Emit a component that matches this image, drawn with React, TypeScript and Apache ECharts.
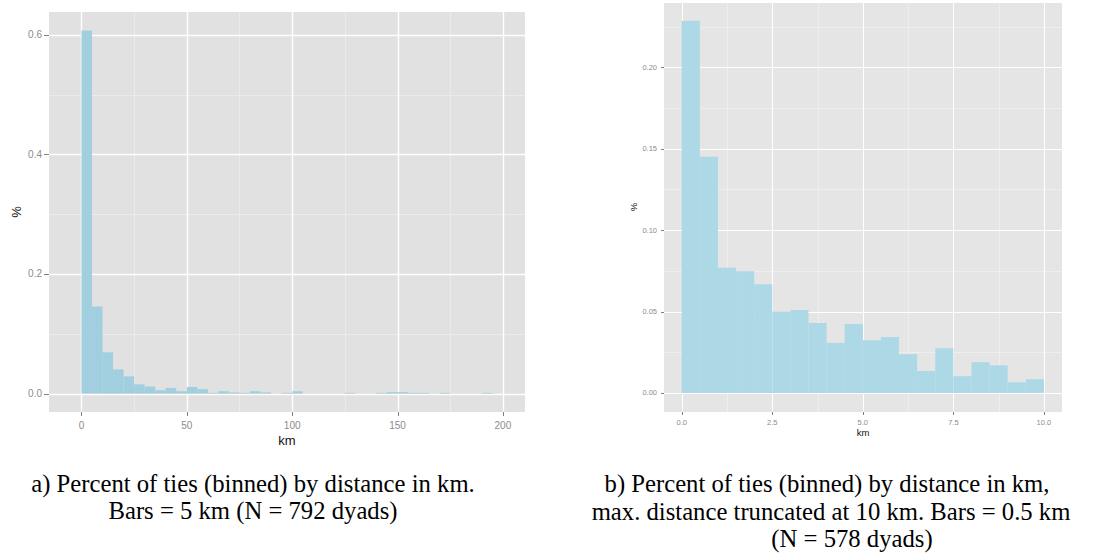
import React, { useEffect, useRef } from "react";
import * as echarts from "echarts";

// ---- Data (panel a): 5 km bins ----
const LEFT_BIN_WIDTH = 5;
const LEFT_BIN_STARTS = [
  0, 5, 10, 15, 20, 25, 30, 35, 40, 45, 50, 55, 60, 65, 70, 75, 80, 85, 90, 95,
  100, 105, 110, 115, 120, 125, 130, 135, 140, 145, 150, 155, 160, 165, 170, 175, 180, 185, 190, 195,
];
const LEFT_VALUES = [
  0.607, 0.1456, 0.069, 0.0404, 0.0288, 0.0155, 0.0117, 0.0056, 0.0095, 0.0040,
  0.0110, 0.0074, 0.0013, 0.0040, 0.0020, 0.0013, 0.0040, 0.0020, 0, 0.0013,
  0.0040, 0, 0, 0, 0, 0.0013, 0, 0, 0.0013, 0.0025,
  0.0025, 0.0013, 0.0013, 0, 0.0013, 0, 0, 0, 0.0013, 0,
];
const LEFT_X_TICKS = [0, 50, 100, 150, 200];
const LEFT_X_MINOR = [25, 75, 125, 175];
const LEFT_Y_TICKS = [0, 0.2, 0.4, 0.6];
const LEFT_Y_MINOR = [0.1, 0.3, 0.5];

// ---- Data (panel b): 0.5 km bins, truncated at 10 km ----
const RIGHT_BIN_WIDTH = 0.5;
const RIGHT_BIN_STARTS = [
  0, 0.5, 1, 1.5, 2, 2.5, 3, 3.5, 4, 4.5, 5, 5.5, 6, 6.5, 7, 7.5, 8, 8.5, 9, 9.5,
];
const RIGHT_VALUES = [
  0.2286, 0.145, 0.0769, 0.0748, 0.0668, 0.0498, 0.0509, 0.0429, 0.0308, 0.0424,
  0.0324, 0.0343, 0.0238, 0.0135, 0.0275, 0.0103, 0.0189, 0.017, 0.0066, 0.0084,
];
const RIGHT_X_TICKS = [0, 2.5, 5, 7.5, 10];
const RIGHT_X_MINOR = [1.25, 3.75, 6.25, 8.75];
const RIGHT_Y_TICKS = [0, 0.05, 0.1, 0.15, 0.2];
const RIGHT_Y_MINOR = [0.025, 0.075, 0.125, 0.175, 0.225];

const CAPTION_A = ["a) Percent of ties (binned) by distance in km.", "Bars = 5 km (N = 792 dyads)"];
const CAPTION_B = [
  "b) Percent of ties (binned) by distance in km,",
  "max. distance truncated at 10 km. Bars = 0.5 km",
  "(N = 578 dyads)",
];

const TICK_COLOR = "#7f7f7f";
const LABEL_COLOR = "#8c8c8c";
const SANS = "Liberation Sans";
const SERIF = "Liberation Serif";

function histSeries(idx: number, starts: number[], values: number[], binW: number, color: string) {
  return {
    type: "custom",
    xAxisIndex: idx,
    yAxisIndex: idx,
    z: 3,
    silent: true,
    data: starts.map((s, i) => [s, values[i]]),
    encode: { x: 0, y: 1 },
    renderItem: (params: any, api: any) => {
      const x0 = api.value(0);
      const v = api.value(1);
      if (!v) return { type: "group", children: [] };
      const p0 = api.coord([x0, v]);
      const p1 = api.coord([x0 + binW, 0]);
      return {
        type: "rect",
        shape: { x: p0[0], y: p0[1], width: p1[0] - p0[0], height: p1[1] - p0[1] },
        style: { fill: color, stroke: null },
      };
    },
  };
}

// vertical grid lines (+ optional tick marks below the panel)
function vLines(idx: number, vals: number[], color: string, width: number, tickLen: number) {
  return {
    type: "custom",
    xAxisIndex: idx,
    yAxisIndex: idx,
    z: 1,
    silent: true,
    clip: false,
    data: vals.map((v) => [v, 0]),
    encode: { x: 0, y: 1 },
    renderItem: (params: any, api: any) => {
      const cs = params.coordSys;
      const px = Math.round(api.coord([api.value(0), api.value(1)])[0]) + 0.5;
      const children: any[] = [
        {
          type: "line",
          shape: { x1: px, y1: cs.y, x2: px, y2: cs.y + cs.height },
          style: { stroke: color, lineWidth: width },
        },
      ];
      if (tickLen > 0) {
        children.push({
          type: "line",
          shape: { x1: px, y1: cs.y + cs.height, x2: px, y2: cs.y + cs.height + tickLen },
          style: { stroke: TICK_COLOR, lineWidth: 1 },
        });
      }
      return { type: "group", children };
    },
  };
}

// horizontal grid lines (+ optional tick marks left of the panel)
function hLines(idx: number, vals: number[], color: string, width: number, tickLen: number) {
  return {
    type: "custom",
    xAxisIndex: idx,
    yAxisIndex: idx,
    z: 1,
    silent: true,
    clip: false,
    data: vals.map((v) => [0, v]),
    encode: { x: 0, y: 1 },
    renderItem: (params: any, api: any) => {
      const cs = params.coordSys;
      const py = Math.round(api.coord([api.value(0), api.value(1)])[1]) + 0.5;
      const children: any[] = [
        {
          type: "line",
          shape: { x1: cs.x, y1: py, x2: cs.x + cs.width, y2: py },
          style: { stroke: color, lineWidth: width },
        },
      ];
      if (tickLen > 0) {
        children.push({
          type: "line",
          shape: { x1: cs.x - tickLen, y1: py, x2: cs.x, y2: py },
          style: { stroke: TICK_COLOR, lineWidth: 1 },
        });
      }
      return { type: "group", children };
    },
  };
}

function caption(text: string, x: number, y: number) {
  return {
    type: "text", x, y,
    style: {
      text, fill: "#000", fontSize: 24.7, fontFamily: SERIF,
      textAlign: "center", textVerticalAlign: "middle",
    },
  };
}

function axisTitle(text: string, x: number, y: number, size: number, rotate: boolean) {
  return {
    type: "text", x, y, rotation: rotate ? Math.PI / 2 : 0,
    style: {
      text, fill: "#111", fontSize: size, fontFamily: SANS,
      textAlign: "center", textVerticalAlign: "middle",
    },
  };
}

function axisLineHidden() {
  return { show: false, onZero: false };
}

export default function App() {
  const ref = useRef<HTMLDivElement>(null);
  useEffect(() => {
    if (!ref.current) return;
    const chart = echarts.init(ref.current, null, { renderer: "svg" });
    const option: any = {
      animation: false,
      backgroundColor: "#ffffff",
      grid: [
        {
          left: 49, top: 12, width: 476, height: 400,
          show: true, backgroundColor: "#E1E1E1", borderWidth: 0,
        },
        {
          left: 664, top: 3, width: 398, height: 409,
          show: true, backgroundColor: "#E5E5E5", borderWidth: 0,
        },
      ],
      xAxis: [
        {
          type: "value", gridIndex: 0, min: -15.4, max: 210.5,
          axisLine: axisLineHidden(),
          splitLine: { show: false },
          axisTick: { show: false },
          axisLabel: {
            customValues: LEFT_X_TICKS, margin: 8, color: LABEL_COLOR, fontSize: 10, fontFamily: SANS,
            formatter: (v: number) => String(v),
          },
        },
        {
          type: "value", gridIndex: 1, min: -0.49, max: 10.5,
          axisLine: axisLineHidden(),
          splitLine: { show: false },
          axisTick: { show: false },
          axisLabel: {
            customValues: RIGHT_X_TICKS, margin: 6, color: LABEL_COLOR, fontSize: 7.5, fontFamily: SANS,
            formatter: (v: number) => v.toFixed(1),
          },
        },
      ],
      yAxis: [
        {
          type: "value", gridIndex: 0, min: -0.0308, max: 0.638,
          axisLine: axisLineHidden(),
          splitLine: { show: false },
          axisTick: { show: false },
          axisLabel: {
            customValues: LEFT_Y_TICKS, margin: 7, color: LABEL_COLOR, fontSize: 10, fontFamily: SANS,
            formatter: (v: number) => v.toFixed(1),
          },
        },
        {
          type: "value", gridIndex: 1, min: -0.0117, max: 0.2395,
          axisLine: axisLineHidden(),
          splitLine: { show: false },
          axisTick: { show: false },
          axisLabel: {
            customValues: RIGHT_Y_TICKS, margin: 7, color: LABEL_COLOR, fontSize: 7.5, fontFamily: SANS,
            formatter: (v: number) => v.toFixed(2),
          },
        },
      ],
      series: [
        vLines(0, LEFT_X_MINOR, "#EDEDED", 0.8, 0),
        hLines(0, LEFT_Y_MINOR, "#EDEDED", 0.8, 0),
        vLines(0, LEFT_X_TICKS, "#FFFFFF", 1.4, 4),
        hLines(0, LEFT_Y_TICKS, "#FFFFFF", 1.4, 5),
        histSeries(0, LEFT_BIN_STARTS, LEFT_VALUES, LEFT_BIN_WIDTH, "#A2CFE0"),
        vLines(1, RIGHT_X_MINOR, "#F2F2F2", 0.7, 0),
        hLines(1, RIGHT_Y_MINOR, "#F2F2F2", 0.7, 0),
        vLines(1, RIGHT_X_TICKS, "#FFFFFF", 1, 3),
        hLines(1, RIGHT_Y_TICKS, "#FFFFFF", 1, 3),
        histSeries(1, RIGHT_BIN_STARTS, RIGHT_VALUES, RIGHT_BIN_WIDTH, "#ADD8E6"),
      ],
      graphic: [
        axisTitle("km", 287, 440, 13, false),
        axisTitle("%", 16, 212, 13, true),
        axisTitle("km", 863, 432, 9.5, false),
        axisTitle("%", 633, 207, 9.5, true),
        caption(CAPTION_A[0], 253, 483),
        caption(CAPTION_A[1], 253, 510),
        caption(CAPTION_B[0], 827, 483),
        caption(CAPTION_B[1], 831, 511),
        caption(CAPTION_B[2], 852, 538),
      ],
    };
    chart.setOption(option);
    return () => chart.dispose();
  }, []);
  return (
    <div
      ref={ref}
      style={{ position: "absolute", left: 0, top: 0, width: 1110, height: 556 }}
    />
  );
}
